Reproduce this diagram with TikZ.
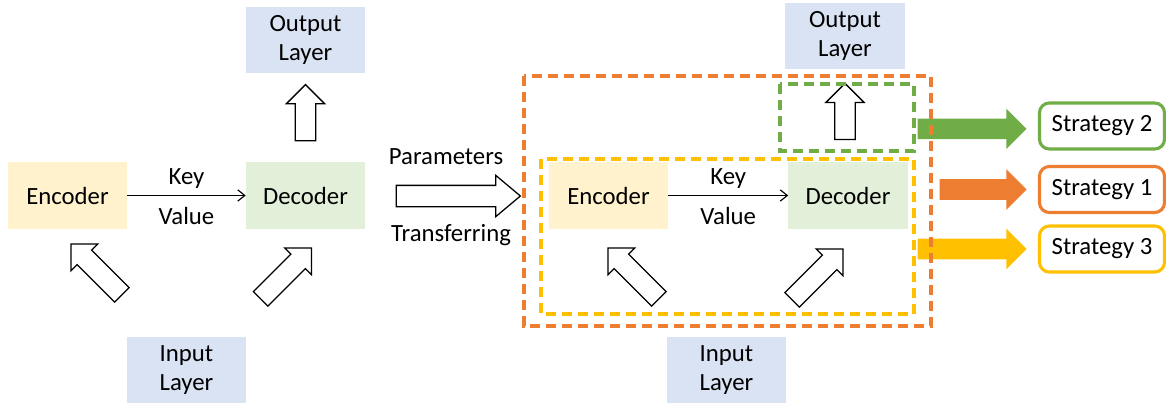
\documentclass[tikz,border=0pt]{standalone}
\usepackage{fontspec}
\setmainfont{Carlito}
\usepackage{xcolor}
\usetikzlibrary{arrows.meta,positioning,calc,shapes.arrows}
\definecolor{encFill}{HTML}{FFF2CC}
\definecolor{decFill}{HTML}{E2F0D9}
\definecolor{layerFill}{HTML}{DAE3F3}
\definecolor{stratOrange}{HTML}{ED7D31}
\definecolor{stratGreen}{HTML}{70AD47}
\definecolor{stratYellow}{HTML}{FFC000}

\begin{document}
\begin{tikzpicture}[x=0.025cm, y=-0.025cm, >={Straight Barb[length=5pt,width=8pt]},
    font=\fontsize{17.6}{20.8}\selectfont,
    block/.style={minimum width=2.975cm, minimum height=1.65cm, align=center, inner sep=0pt},
    hollow/.style={single arrow, draw=black, line width=0.9pt, fill=white, inner sep=0.24cm,
        single arrow head extend=0.22cm, minimum height=#1},
    stratArrow/.style={single arrow, draw=none, fill=#1, inner sep=0.25cm,
        single arrow head extend=0.25cm, minimum height=2.725cm},
    stratBox/.style={draw=#1, line width=2.2pt, rounded corners=7pt, fill=white,
        minimum width=3.125cm, minimum height=1.15cm},
    frameBox/.style={draw=#1, line width=2.2pt, dash pattern=on 0.25cm off 0.15cm}]
    \useasboundingbox (0,0) rectangle (1166,403);

    \node[block, fill=layerFill] (outL) at (305.5,40) {Output\\Layer};
    \node[block, fill=encFill] (encL) at (67.5,195.5) {Encoder};
    \node[block, fill=decFill] (decL) at (305.5,195.5) {Decoder};
    \node[block, fill=layerFill] (inL) at (186.5,370) {Input\\Layer};
    \draw[->, line width=0.8pt] (encL) -- (decL) node[midway, above=1pt]{Key} node[midway, below=5pt]{Value};
    \node[hollow=1.4cm, rotate=90] (upL) at ($(decL.north)!0.5!(outL.south)$) {};
    \node[hollow=1.8cm, rotate=135] (inEncL) at (100,273) {};
    \node[hollow=1.8cm, rotate=45] (inDecL) at (282.5,277) {};

    \node[hollow=3.1cm, single arrow tip angle=80, inner sep=0.25cm, single arrow head extend=0.25cm] (parArrow) at (452,196) {};
    \node (parTop) at (446,157) {Parameters};
    \node (parBot) at (451,235) {Transferring};

    \node[block, fill=layerFill] (outR) at (845,36) {Output\\Layer};
    \node[block, fill=encFill] (encR) at (608.5,195.5) {Encoder};
    \node[block, fill=decFill] (decR) at (848,195.5) {Decoder};
    \node[block, fill=layerFill] (inR) at (726.5,370) {Input\\Layer};
    \draw[->, line width=0.8pt] (encR) -- (decR) node[midway, above=1pt]{Key} node[midway, below=5pt]{Value};
    \node[hollow=1.4cm, rotate=90] (upR) at (845,116.5) {};
    \node[hollow=1.8cm, rotate=135] (inEncR) at (637,277) {};
    \node[hollow=1.8cm, rotate=45] (inDecR) at (814,278) {};

    \node[stratBox=stratGreen] (s2) at (1102,126) {Strategy 2};
    \node[stratBox=stratOrange] (s1) at (1102,189.5) {Strategy 1};
    \node[stratBox=stratYellow] (s3) at (1102,249) {Strategy 3};
    \node[stratArrow=stratGreen, left=2.75mm of s2, yshift=-2pt] (toS2) {};
    \node[stratArrow=stratOrange, minimum height=2.175cm, left=2.75mm of s1] (toS1) {};
    \node[stratArrow=stratYellow, left=2.75mm of s3] (toS3) {};

    \draw[frameBox=stratOrange] (524,76) rectangle (931,326);
    \draw[frameBox=stratGreen] (780,84) rectangle (914,151);
    \draw[frameBox=stratYellow] (541,159) rectangle (914,314);
\end{tikzpicture}
\end{document}
